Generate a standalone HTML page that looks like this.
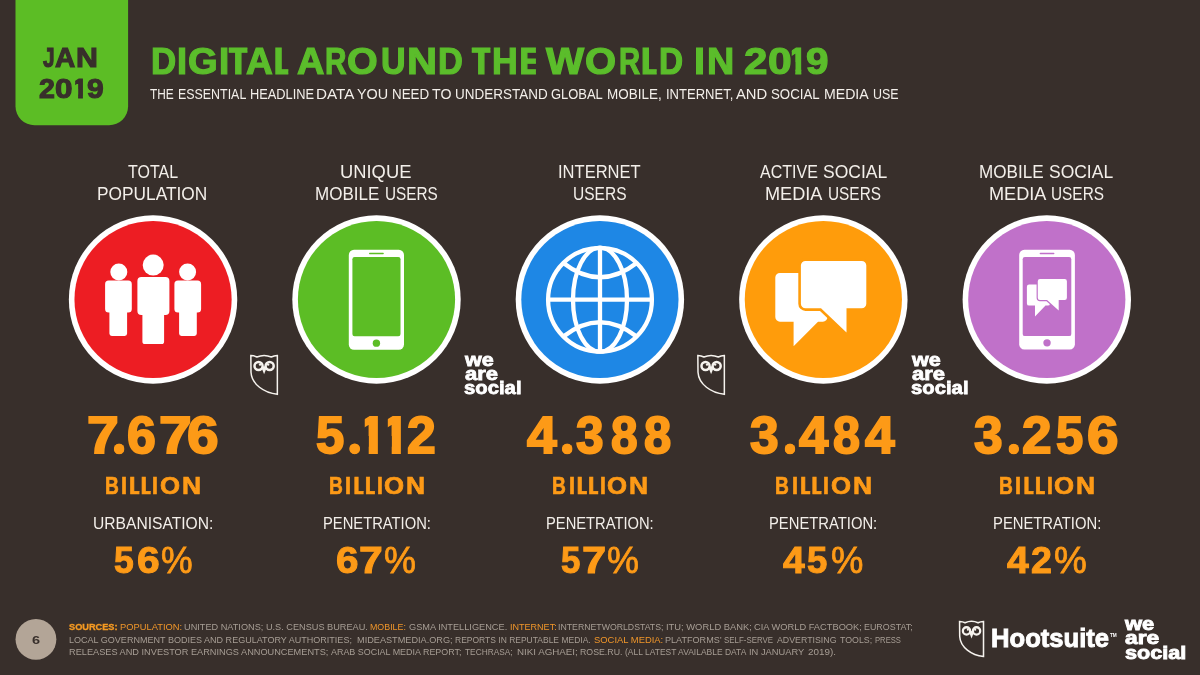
<!DOCTYPE html>
<html lang="en">
<head>
<meta charset="utf-8">
<title>Digital Around the World in 2019</title>
<style>
html,body{margin:0;padding:0;}
body{width:1200px;height:675px;overflow:hidden;background:#382f2b;font-family:"Liberation Sans",sans-serif;}
#stage{position:absolute;left:0;top:0;width:1200px;height:675px;overflow:hidden;background:#382f2b;}
header,main,footer,section,.badge,.brand,.page,.sources,.logos{display:block;margin:0;padding:0;}
.a{position:absolute;left:0;top:0;display:block;}
.g{position:absolute;left:0;top:0;margin:0;padding:0;font-size:0;line-height:0;font-weight:400;}
.t{position:absolute;display:block;white-space:pre;transform-origin:0 0;margin:0;}
.f0{font-size:27.25px;line-height:27.25px;font-weight:700;color:#382f2b;-webkit-text-stroke:1.1px #382f2b;}
.f1{font-size:27.75px;line-height:27.75px;font-weight:700;color:#382f2b;-webkit-text-stroke:1.1px #382f2b;}
.f2{font-size:36.25px;line-height:36.25px;font-weight:700;color:#5bbd2b;-webkit-text-stroke:1.2px #5bbd2b;}
.f3{font-size:15.25px;line-height:15.25px;font-weight:400;color:#f3efea;}
.f4{font-size:18px;line-height:18px;font-weight:400;color:#f3efea;}
.f5{font-size:51px;line-height:51px;font-weight:700;color:#fd9a17;-webkit-text-stroke:1.9px #fd9a17;}
.f6{font-size:66.5px;line-height:66.5px;font-weight:700;color:#fd9a17;-webkit-text-stroke:1.6px #fd9a17;}
.f7{font-size:23.25px;line-height:23.25px;font-weight:700;color:#fd9a17;-webkit-text-stroke:0.7px #fd9a17;}
.f8{font-size:17px;line-height:17px;font-weight:400;color:#f3efea;}
.f9{font-size:36px;line-height:36px;font-weight:700;color:#fd9a17;-webkit-text-stroke:1px #fd9a17;}
.f10{font-size:36.25px;line-height:36.25px;font-weight:400;color:#fd9a17;-webkit-text-stroke:0.8px #fd9a17;}
.f11{font-size:67.75px;line-height:67.75px;font-weight:700;color:#fd9a17;-webkit-text-stroke:1.6px #fd9a17;}
.f12{font-size:19px;line-height:19px;font-weight:700;color:#ffffff;-webkit-text-stroke:0.8px #ffffff;}
.f13{font-size:18.75px;line-height:18.75px;font-weight:700;color:#ffffff;-webkit-text-stroke:0.8px #ffffff;}
.f14{font-size:65.75px;line-height:65.75px;font-weight:700;color:#fd9a17;-webkit-text-stroke:1.6px #fd9a17;}
.f15{font-size:11.75px;line-height:11.75px;font-weight:700;color:#382f2b;}
.f16{font-size:8.75px;line-height:8.75px;font-weight:700;color:#f59a22;-webkit-text-stroke:0.3px #f59a22;}
.f17{font-size:8.75px;line-height:8.75px;font-weight:400;color:#f0962a;}
.f18{font-size:8.75px;line-height:8.75px;font-weight:400;color:#a79e95;}
.f19{font-size:26px;line-height:26px;font-weight:700;color:#ffffff;-webkit-text-stroke:0.9px #ffffff;}
.f20{font-size:5px;line-height:5px;font-weight:700;color:#ffffff;}
.f21{font-size:18.75px;line-height:18.75px;font-weight:700;color:#ffffff;-webkit-text-stroke:0.9px #ffffff;}
.f22{font-size:19px;line-height:19px;font-weight:700;color:#ffffff;-webkit-text-stroke:0.9px #ffffff;}
</style>
</head>
<body>
<div id="stage">
<header>
<div class="badge"><svg class="a" width="1200" height="675" viewBox="0 0 1200 675" aria-hidden="true">
<path d="M15.5 0H128.1V106.2a19 19 0 0 1 -19 19H34.5a19 19 0 0 1 -19 -19Z" fill="#5cbd25"/>
</svg><div class="g date"><span class="t f0" style="left:43.45px;top:43.65px;transform:scaleX(0.7657);">J</span><span class="t f0" style="left:55.02px;top:43.65px;transform:scaleX(1.0283);">A</span><span class="t f0" style="left:75.84px;top:43.65px;transform:scaleX(1.1117);">N </span><span class="t f1" style="left:38.72px;top:74.8px;transform:scaleX(1.0279);">2</span><span class="t f1" style="left:55.42px;top:74.8px;transform:scaleX(1.1329);">0</span><span class="t f1" style="left:72.15px;top:74.8px;clip-path:polygon(3.05px 0,10.75px 0,10.75px 27.75px,5.97px 27.75px,5.97px 13.88px,3.05px 13.88px);">1</span><span class="t f1" style="left:87.23px;top:74.8px;transform:scaleX(1.0812);">9</span></div></div>
<h1 class="g"><span class="t f2" style="left:150.61px;top:43.95px;transform:scaleX(0.9624);">D</span><span class="t f2" style="left:176.9px;top:43.95px;transform:scaleX(1.0003);">I</span><span class="t f2" style="left:188.4px;top:43.95px;transform:scaleX(1.0505);">G</span><span class="t f2" style="left:218.6px;top:43.95px;transform:scaleX(1.0162);">I</span><span class="t f2" style="left:227.27px;top:43.95px;clip-path:polygon(1.53px 0,20.13px 0,20.13px 100%,1.53px 100%);">T</span><span class="t f2" style="left:245.54px;top:43.95px;transform:scaleX(1.0238);">A</span><span class="t f2" style="left:273.4px;top:43.95px;clip-path:polygon(-1.50px 0,14.90px 0,14.90px 100%,-1.50px 100%);">L </span><span class="t f2" style="left:296.82px;top:43.95px;transform:scaleX(1.0474);">A</span><span class="t f2" style="left:324.78px;top:43.95px;transform:scaleX(0.82);">R</span><span class="t f2" style="left:347.3px;top:43.95px;transform:scaleX(1.0877);">O</span><span class="t f2" style="left:380.78px;top:43.95px;transform:scaleX(0.9387);">U</span><span class="t f2" style="left:407.05px;top:43.95px;transform:scaleX(1.1475);">N</span><span class="t f2" style="left:438.04px;top:43.95px;transform:scaleX(0.9495);">D </span><span class="t f2" style="left:470.27px;top:43.95px;clip-path:polygon(1.53px 0,20.13px 0,20.13px 100%,1.53px 100%);">T</span><span class="t f2" style="left:491.57px;top:43.95px;transform:scaleX(0.9823);">H</span><span class="t f2" style="left:519.3px;top:43.95px;clip-path:polygon(-1.50px 0,16.60px 0,16.60px 100%,-1.50px 100%);">E </span><span class="t f2" style="left:546.2px;top:43.95px;transform:scaleX(1.1134);">W</span><span class="t f2" style="left:584.7px;top:43.95px;transform:scaleX(1.1029);">O</span><span class="t f2" style="left:618.52px;top:43.95px;transform:scaleX(0.8075);">R</span><span class="t f2" style="left:640.7px;top:43.95px;clip-path:polygon(-1.50px 0,16.00px 0,16.00px 100%,-1.50px 100%);">L</span><span class="t f2" style="left:658.69px;top:43.95px;transform:scaleX(0.9195);">D </span><span class="t f2" style="left:693.8px;top:43.95px;transform:scaleX(1.0956);">I</span><span class="t f2" style="left:707px;top:43.95px;transform:scaleX(1.0404);">N </span><span class="t f2" style="left:744.31px;top:43.95px;transform:scaleX(1.1608);">2</span><span class="t f2" style="left:768.3px;top:43.95px;transform:scaleX(1.1745);">0</span><span class="t f2" style="left:787.38px;top:43.95px;clip-path:polygon(4.42px 0,13.92px 0,13.92px 36.25px,7.92px 36.25px,7.92px 18.12px,4.42px 18.12px);">1</span><span class="t f2" style="left:805.81px;top:43.95px;transform:scaleX(1.1149);">9</span></h1>
<p class="g"><span class="t f3" style="left:149.77px;top:86.35px;transform:scaleX(0.7796);">THE </span><span class="t f3" style="left:177.89px;top:86.35px;transform:scaleX(0.8139);">ESSENTIAL </span><span class="t f3" style="left:249.76px;top:86.35px;transform:scaleX(0.8405);">HEADLINE </span><span class="t f3" style="left:316.29px;top:86.35px;transform:scaleX(0.9976);">DATA </span><span class="t f3" style="left:357.42px;top:86.35px;transform:scaleX(0.9444);">YOU </span><span class="t f3" style="left:392.22px;top:86.35px;transform:scaleX(0.8779);">NEED </span><span class="t f3" style="left:432.23px;top:86.35px;transform:scaleX(0.9288);">TO </span><span class="t f3" style="left:454.77px;top:86.35px;transform:scaleX(0.8839);">UNDERSTAND </span><span class="t f3" style="left:551.37px;top:86.35px;transform:scaleX(0.8483);">GLOBAL </span><span class="t f3" style="left:607.22px;top:86.35px;transform:scaleX(0.8831);">MOBILE, </span><span class="t f3" style="left:665.53px;top:86.35px;transform:scaleX(0.8546);">INTERNET, </span><span class="t f3" style="left:736.1px;top:86.35px;transform:scaleX(0.9705);">AND </span><span class="t f3" style="left:771.45px;top:86.35px;transform:scaleX(0.8687);">SOCIAL </span><span class="t f3" style="left:823.87px;top:86.35px;transform:scaleX(0.9254);">MEDIA </span><span class="t f3" style="left:872.8px;top:86.35px;transform:scaleX(0.8161);">USE </span></p>
</header>
<main>
<section class="col" aria-label="Total population">
<h2 class="g"><span class="t f4" style="left:127.99px;top:162.55px;transform:scaleX(0.8889);">TOTAL </span><span class="t f4" style="left:97.33px;top:185.35px;transform:scaleX(0.9614);">POPULATION </span></h2>
<svg class="a" width="1200" height="675" viewBox="0 0 1200 675" role="img" aria-label="People icon">
<circle cx="153.05" cy="299.5" r="84.2" fill="#ffffff"/>
<circle cx="153.05" cy="299.5" r="78.6" fill="#ed1d23"/>
<g>
<circle cx="118.8" cy="272.0" r="8.5" fill="#ffffff"/><path d="M108.7 280.6H128.2a3.6 3.6 0 0 1 3.6 3.6V309.0a3.6 3.6 0 0 1 -3.6 3.6H127.1V333.6a2.4 2.4 0 0 1 -2.4 2.4H111.8a2.4 2.4 0 0 1 -2.4 -2.4V312.6H108.7a3.6 3.6 0 0 1 -3.6 -3.6V284.2a3.6 3.6 0 0 1 3.6 -3.6Z" fill="#ffffff"/>
<circle cx="187.6" cy="272.0" r="8.5" fill="#ffffff"/><path d="M178.0 280.6H197.5a3.6 3.6 0 0 1 3.6 3.6V309.0a3.6 3.6 0 0 1 -3.6 3.6H196.8V333.6a2.4 2.4 0 0 1 -2.4 2.4H181.5a2.4 2.4 0 0 1 -2.4 -2.4V312.6H178.0a3.6 3.6 0 0 1 -3.6 -3.6V284.2a3.6 3.6 0 0 1 3.6 -3.6Z" fill="#ffffff"/>
<circle cx="153.2" cy="265.1" r="10.5" fill="#ffffff"/><path d="M141.4 277.0H165.4a4.0 4.0 0 0 1 4.0 4.0V311.0a4.0 4.0 0 0 1 -4.0 4.0H164.1V341.4a2.6 2.6 0 0 1 -2.6 2.6H145.0a2.6 2.6 0 0 1 -2.6 -2.6V315.0H141.4a4.0 4.0 0 0 1 -4.0 -4.0V281.0a4.0 4.0 0 0 1 4.0 -4.0Z" fill="#ffffff"/>
</g>
</svg>
<div class="g num"><span class="t f5" style="left:87.47px;top:410.46px;transform:scaleX(1.1202);">7</span><span class="t f6" style="left:109.91px;top:397.9px;clip-path:circle(5.30px at 9.19px 51.00px);">.</span><span class="t f5" style="left:127.1px;top:410.46px;transform:scaleX(1.0152);">6</span><span class="t f5" style="left:158.63px;top:410.46px;transform:scaleX(1.1512);">7</span><span class="t f5" style="left:186.76px;top:410.46px;transform:scaleX(1.1133);">6</span></div>
<div class="g unit"><span class="t f7" style="left:104.63px;top:475px;transform:scaleX(0.8245);">B</span><span class="t f7" style="left:121.2px;top:475px;transform:scaleX(0.9294);">I</span><span class="t f7" style="left:129.08px;top:475px;clip-path:polygon(-2.38px 0,10.32px 0,10.32px 100%,-2.38px 100%);">L</span><span class="t f7" style="left:140.48px;top:475px;clip-path:polygon(-2.38px 0,10.22px 0,10.22px 100%,-2.38px 100%);">L</span><span class="t f7" style="left:152.41px;top:475px;transform:scaleX(0.9056);">I</span><span class="t f7" style="left:159.76px;top:475px;transform:scaleX(1.1077);">O</span><span class="t f7" style="left:181.86px;top:475px;transform:scaleX(1.1367);">N</span></div>
<div class="g key"><span class="t f8" style="left:93.03px;top:515.45px;transform:scaleX(0.9187);">URBANISATION:</span></div>
<div class="g pct"><span class="t f9" style="left:113.63px;top:543.2px;transform:scaleX(0.9877);">5</span><span class="t f9" style="left:136.9px;top:543.2px;transform:scaleX(1.1338);">6</span><span class="t f10" style="left:160.93px;top:543.21px;transform:scaleX(0.981);">%</span></div>
</section>
<div class="brand"><svg class="a" width="1200" height="675" viewBox="0 0 1200 675" role="img" aria-label="Hootsuite owl">
<g transform="translate(250.1 354.7) scale(1.0)"><path d="M0.75 0.8Q4.2 0.9 6.8 2.3Q10.3 0.7 14 0.7Q17.7 0.7 21.2 2.3Q23.8 0.9 27.25 0.8V39.6C14 38.2 1.6 29.5 0.9 17.5Z" fill="none" stroke="#f6f3ee" stroke-width="1.5" stroke-linejoin="miter"/><circle cx="8.45" cy="11.3" r="4.05" fill="none" stroke="#f6f3ee" stroke-width="2.5"/><circle cx="9.95" cy="9.9" r="1.2" fill="#f6f3ee"/><circle cx="19.55" cy="11.3" r="4.05" fill="none" stroke="#f6f3ee" stroke-width="2.5"/><circle cx="18.05" cy="9.9" r="1.2" fill="#f6f3ee"/><path d="M11.2 12.6Q14 10.4 16.8 12.6L14 19.6Z" fill="#f6f3ee"/></g>
</svg></div>
<section class="col" aria-label="Unique mobile users">
<h2 class="g"><span class="t f4" style="left:340.14px;top:162.55px;transform:scaleX(1.0198);">UNIQUE </span><span class="t f4" style="left:314.65px;top:185.35px;transform:scaleX(0.9459);">MOBILE </span><span class="t f4" style="left:384.65px;top:185.35px;transform:scaleX(0.8515);">USERS </span></h2>
<svg class="a" width="1200" height="675" viewBox="0 0 1200 675" role="img" aria-label="Mobile phone icon">
<circle cx="376.5" cy="299.5" r="84.2" fill="#ffffff"/>
<circle cx="376.5" cy="299.5" r="78.6" fill="#5cbd25"/>
<rect x="348.8" y="249.8" width="55.2" height="100.0" rx="5.2" fill="#ffffff"/><rect x="352.4" y="257.0" width="48.1" height="79.3" rx="2.2" fill="#5cbd25"/><rect x="369.0" y="252.7" width="14.8" height="1.5" rx="0.7" fill="#5cbd25"/><circle cx="376.4" cy="343.15" r="3.7" fill="#5cbd25"/>
</svg>
<div class="g num"><span class="t f5" style="left:316.43px;top:410.46px;transform:scaleX(0.9964);">5</span><span class="t f11" style="left:345.35px;top:396.91px;clip-path:circle(5.40px at 9.35px 51.89px);">.</span><span class="t f5" style="left:357.33px;top:410.46px;transform:scaleX(1.06);clip-path:polygon(7.15px 0,19.69px 0,19.69px 51.0px,11.04px 51.0px,11.04px 25.50px,7.15px 25.50px);">1</span><span class="t f5" style="left:380.33px;top:410.46px;transform:scaleX(1.06);clip-path:polygon(7.24px 0,19.69px 0,19.69px 51.0px,11.04px 51.0px,11.04px 25.50px,7.24px 25.50px);">1</span><span class="t f5" style="left:406.7px;top:410.46px;transform:scaleX(1.0136);">2</span></div>
<div class="g unit"><span class="t f7" style="left:328.83px;top:475px;transform:scaleX(0.8245);">B</span><span class="t f7" style="left:345.4px;top:475px;transform:scaleX(0.9294);">I</span><span class="t f7" style="left:353.28px;top:475px;clip-path:polygon(-2.38px 0,10.32px 0,10.32px 100%,-2.38px 100%);">L</span><span class="t f7" style="left:364.68px;top:475px;clip-path:polygon(-2.38px 0,10.22px 0,10.22px 100%,-2.38px 100%);">L</span><span class="t f7" style="left:376.61px;top:475px;transform:scaleX(0.9056);">I</span><span class="t f7" style="left:383.96px;top:475px;transform:scaleX(1.1077);">O</span><span class="t f7" style="left:406.06px;top:475px;transform:scaleX(1.1367);">N</span></div>
<div class="g key"><span class="t f8" style="left:322.53px;top:515.45px;transform:scaleX(0.8676);">PENETRATION:</span></div>
<div class="g pct"><span class="t f9" style="left:336.3px;top:543.2px;transform:scaleX(1.1227);">6</span><span class="t f9" style="left:359.24px;top:543.2px;transform:scaleX(1.1859);">7</span><span class="t f10" style="left:383.53px;top:543.21px;transform:scaleX(0.9909);">%</span></div>
</section>
<div class="g brand"><span class="t f12" style="left:464.64px;top:350.15px;transform:scaleX(1.1317);">we </span><span class="t f13" style="left:464.64px;top:365.05px;transform:scaleX(1.1715);">are </span><span class="t f13" style="left:464.45px;top:379.05px;transform:scaleX(1.0822);">social </span></div>
<section class="col" aria-label="Internet users">
<h2 class="g"><span class="t f4" style="left:557.83px;top:162.55px;transform:scaleX(0.9189);">INTERNET </span><span class="t f4" style="left:572.63px;top:185.35px;transform:scaleX(0.8632);">USERS </span></h2>
<svg class="a" width="1200" height="675" viewBox="0 0 1200 675" role="img" aria-label="Globe icon">
<circle cx="599.9" cy="299.5" r="84.2" fill="#ffffff"/>
<circle cx="599.9" cy="299.5" r="78.6" fill="#1e87e5"/>
<g fill="none" stroke="#ffffff" stroke-width="4.3">
<circle cx="600" cy="299.7" r="51.9"/>
<ellipse cx="600" cy="299.7" rx="27" ry="52"/>
<path d="M600 247.7V351.7M548 299.7H652"/>
<path d="M563 262.7Q600 291.7 637 262.7"/>
<path d="M563 336.7Q600 307.7 637 336.7"/>
</g>
</svg>
<div class="g num"><span class="t f5" style="left:527.15px;top:410.46px;transform:scaleX(1.0483);">4</span><span class="t f6" style="left:558.01px;top:397.9px;clip-path:circle(5.30px at 9.19px 51.00px);">.</span><span class="t f5" style="left:576.07px;top:410.46px;transform:scaleX(0.9731);">3</span><span class="t f5" style="left:611px;top:410.46px;transform:scaleX(0.9372);">8</span><span class="t f5" style="left:643.59px;top:410.46px;transform:scaleX(0.9593);">8</span></div>
<div class="g unit"><span class="t f7" style="left:552.13px;top:475px;transform:scaleX(0.8245);">B</span><span class="t f7" style="left:568.7px;top:475px;transform:scaleX(0.9294);">I</span><span class="t f7" style="left:576.58px;top:475px;clip-path:polygon(-2.38px 0,10.32px 0,10.32px 100%,-2.38px 100%);">L</span><span class="t f7" style="left:587.98px;top:475px;clip-path:polygon(-2.38px 0,10.22px 0,10.22px 100%,-2.38px 100%);">L</span><span class="t f7" style="left:599.91px;top:475px;transform:scaleX(0.9056);">I</span><span class="t f7" style="left:607.26px;top:475px;transform:scaleX(1.1077);">O</span><span class="t f7" style="left:629.36px;top:475px;transform:scaleX(1.1367);">N</span></div>
<div class="g key"><span class="t f8" style="left:546.03px;top:515.45px;transform:scaleX(0.866);">PENETRATION:</span></div>
<div class="g pct"><span class="t f9" style="left:561.14px;top:543.2px;transform:scaleX(0.9665);">5</span><span class="t f9" style="left:582.12px;top:543.2px;transform:scaleX(1.2082);">7</span><span class="t f10" style="left:606.83px;top:543.21px;transform:scaleX(0.9909);">%</span></div>
</section>
<div class="brand"><svg class="a" width="1200" height="675" viewBox="0 0 1200 675" role="img" aria-label="Hootsuite owl">
<g transform="translate(697.1 354.7) scale(1.0)"><path d="M0.75 0.8Q4.2 0.9 6.8 2.3Q10.3 0.7 14 0.7Q17.7 0.7 21.2 2.3Q23.8 0.9 27.25 0.8V39.6C14 38.2 1.6 29.5 0.9 17.5Z" fill="none" stroke="#f6f3ee" stroke-width="1.5" stroke-linejoin="miter"/><circle cx="8.45" cy="11.3" r="4.05" fill="none" stroke="#f6f3ee" stroke-width="2.5"/><circle cx="9.95" cy="9.9" r="1.2" fill="#f6f3ee"/><circle cx="19.55" cy="11.3" r="4.05" fill="none" stroke="#f6f3ee" stroke-width="2.5"/><circle cx="18.05" cy="9.9" r="1.2" fill="#f6f3ee"/><path d="M11.2 12.6Q14 10.4 16.8 12.6L14 19.6Z" fill="#f6f3ee"/></g>
</svg></div>
<section class="col" aria-label="Active social media users">
<h2 class="g"><span class="t f4" style="left:759.84px;top:162.55px;transform:scaleX(0.8892);">ACTIVE </span><span class="t f4" style="left:822.62px;top:162.55px;transform:scaleX(0.9725);">SOCIAL </span><span class="t f4" style="left:765.27px;top:185.35px;transform:scaleX(1.0076);">MEDIA </span><span class="t f4" style="left:827.54px;top:185.35px;transform:scaleX(0.8548);">USERS </span></h2>
<svg class="a" width="1200" height="675" viewBox="0 0 1200 675" role="img" aria-label="Chat bubbles icon">
<circle cx="823.35" cy="299.5" r="84.2" fill="#ffffff"/>
<circle cx="823.35" cy="299.5" r="78.6" fill="#ff9c0b"/>
<path d="M779.9 272.9H822.9a4.6 4.6 0 0 1 4.6 4.6V317.1a4.6 4.6 0 0 1 -4.6 4.6H818.0L793.6 346.2V321.7H779.9a4.6 4.6 0 0 1 -4.6 -4.6V277.5a4.6 4.6 0 0 1 4.6 -4.6Z" fill="#ffffff"/><path d="M805.5 260.9H861.7a4.6 4.6 0 0 1 4.6 4.6V303.7a4.6 4.6 0 0 1 -4.6 4.6H846.5V332.6L821.0 308.3H805.5a4.6 4.6 0 0 1 -4.6 -4.6V265.5a4.6 4.6 0 0 1 4.6 -4.6Z" fill="#ff9c0b" stroke="#ff9c0b" stroke-width="5.2" stroke-linejoin="round"/><path d="M805.5 260.9H861.7a4.6 4.6 0 0 1 4.6 4.6V303.7a4.6 4.6 0 0 1 -4.6 4.6H846.5V332.6L821.0 308.3H805.5a4.6 4.6 0 0 1 -4.6 -4.6V265.5a4.6 4.6 0 0 1 4.6 -4.6Z" fill="#ffffff"/>
</svg>
<div class="g num"><span class="t f5" style="left:750.35px;top:410.46px;transform:scaleX(1.0099);">3</span><span class="t f6" style="left:780.81px;top:397.9px;clip-path:circle(5.30px at 9.19px 51.00px);">.</span><span class="t f5" style="left:798.5px;top:410.46px;transform:scaleX(1.0345);">4</span><span class="t f5" style="left:833.39px;top:410.46px;transform:scaleX(0.952);">8</span><span class="t f5" style="left:864.95px;top:410.46px;transform:scaleX(1.0448);">4</span></div>
<div class="g unit"><span class="t f7" style="left:775.43px;top:475px;transform:scaleX(0.8245);">B</span><span class="t f7" style="left:792px;top:475px;transform:scaleX(0.9294);">I</span><span class="t f7" style="left:799.88px;top:475px;clip-path:polygon(-2.38px 0,10.32px 0,10.32px 100%,-2.38px 100%);">L</span><span class="t f7" style="left:811.28px;top:475px;clip-path:polygon(-2.38px 0,10.22px 0,10.22px 100%,-2.38px 100%);">L</span><span class="t f7" style="left:823.21px;top:475px;transform:scaleX(0.9056);">I</span><span class="t f7" style="left:830.56px;top:475px;transform:scaleX(1.1077);">O</span><span class="t f7" style="left:852.66px;top:475px;transform:scaleX(1.1367);">N</span></div>
<div class="g key"><span class="t f8" style="left:769.32px;top:515.45px;transform:scaleX(0.8701);">PENETRATION:</span></div>
<div class="g pct"><span class="t f9" style="left:783.28px;top:543.2px;transform:scaleX(1.0846);">4</span><span class="t f9" style="left:807.31px;top:543.2px;transform:scaleX(1.0141);">5</span><span class="t f10" style="left:830.64px;top:543.21px;transform:scaleX(1.0041);">%</span></div>
</section>
<div class="g brand"><span class="t f12" style="left:911.64px;top:350.15px;transform:scaleX(1.1317);">we </span><span class="t f13" style="left:911.64px;top:365.05px;transform:scaleX(1.1715);">are </span><span class="t f13" style="left:911.45px;top:379.05px;transform:scaleX(1.0822);">social </span></div>
<section class="col" aria-label="Mobile social media users">
<h2 class="g"><span class="t f4" style="left:979.45px;top:162.55px;transform:scaleX(0.9489);">MOBILE </span><span class="t f4" style="left:1048.93px;top:162.55px;transform:scaleX(0.9709);">SOCIAL </span><span class="t f4" style="left:989.07px;top:185.35px;transform:scaleX(1.0076);">MEDIA </span><span class="t f4" style="left:1050.84px;top:185.35px;transform:scaleX(0.8548);">USERS </span></h2>
<svg class="a" width="1200" height="675" viewBox="0 0 1200 675" role="img" aria-label="Phone with chat bubbles icon">
<circle cx="1046.8" cy="299.5" r="84.2" fill="#ffffff"/>
<circle cx="1046.8" cy="299.5" r="78.6" fill="#c071c9"/>
<rect x="1019.2" y="249.8" width="55.7" height="99.6" rx="5.2" fill="#ffffff"/><rect x="1022.7" y="257.0" width="48.6" height="79.1" rx="2.2" fill="#c071c9"/><rect x="1039.65" y="252.7" width="14.8" height="1.5" rx="0.7" fill="#c071c9"/><circle cx="1047.05" cy="342.85" r="3.7" fill="#c071c9"/>
<path d="M1029.1 284.5H1047.8a2.2 2.2 0 0 1 2.2 2.2V303.4a2.2 2.2 0 0 1 -2.2 2.2H1045.5L1035.0 316.6V305.6H1029.1a2.2 2.2 0 0 1 -2.2 -2.2V286.7a2.2 2.2 0 0 1 2.2 -2.2Z" fill="#ffffff"/><path d="M1040.0 279.0H1064.7a2.2 2.2 0 0 1 2.2 2.2V297.8a2.2 2.2 0 0 1 -2.2 2.2H1058.7V310.4L1047.0 300.0H1040.0a2.2 2.2 0 0 1 -2.2 -2.2V281.2a2.2 2.2 0 0 1 2.2 -2.2Z" fill="#c071c9" stroke="#c071c9" stroke-width="2.4" stroke-linejoin="round"/><path d="M1040.0 279.0H1064.7a2.2 2.2 0 0 1 2.2 2.2V297.8a2.2 2.2 0 0 1 -2.2 2.2H1058.7V310.4L1047.0 300.0H1040.0a2.2 2.2 0 0 1 -2.2 -2.2V281.2a2.2 2.2 0 0 1 2.2 -2.2Z" fill="#ffffff"/>
</svg>
<div class="g num"><span class="t f5" style="left:974.15px;top:410.46px;transform:scaleX(1.0099);">3</span><span class="t f14" style="left:1004.65px;top:398.95px;clip-path:circle(5.25px at 9.10px 50.00px);">.</span><span class="t f5" style="left:1021.5px;top:410.46px;transform:scaleX(1.044);">2</span><span class="t f5" style="left:1056.34px;top:410.46px;transform:scaleX(0.9598);">5</span><span class="t f5" style="left:1087.1px;top:410.46px;transform:scaleX(1.1095);">6</span></div>
<div class="g unit"><span class="t f7" style="left:998.83px;top:475px;transform:scaleX(0.8245);">B</span><span class="t f7" style="left:1015.4px;top:475px;transform:scaleX(0.9294);">I</span><span class="t f7" style="left:1023.28px;top:475px;clip-path:polygon(-2.38px 0,10.32px 0,10.32px 100%,-2.38px 100%);">L</span><span class="t f7" style="left:1034.68px;top:475px;clip-path:polygon(-2.38px 0,10.22px 0,10.22px 100%,-2.38px 100%);">L</span><span class="t f7" style="left:1046.61px;top:475px;transform:scaleX(0.9056);">I</span><span class="t f7" style="left:1053.96px;top:475px;transform:scaleX(1.1077);">O</span><span class="t f7" style="left:1076.06px;top:475px;transform:scaleX(1.1367);">N</span></div>
<div class="g key"><span class="t f8" style="left:992.62px;top:515.45px;transform:scaleX(0.8709);">PENETRATION:</span></div>
<div class="g pct"><span class="t f9" style="left:1007.08px;top:543.2px;transform:scaleX(1.0846);">4</span><span class="t f9" style="left:1030.98px;top:543.2px;transform:scaleX(1.0436);">2</span><span class="t f10" style="left:1053.54px;top:543.21px;transform:scaleX(1.0174);">%</span></div>
</section>
</main>
<footer>
<div class="page"><svg class="a" width="1200" height="675" viewBox="0 0 1200 675" aria-hidden="true">
<circle cx="35.95" cy="639.35" r="20.4" fill="#b3a597"/>
</svg><div class="g"><span class="t f15" style="left:31.68px;top:633.55px;transform:scaleX(1.2365);">6</span></div></div>
<div class="sources"><p class="g"><span class="t f16" style="left:68.97px;top:623.05px;transform:scaleX(1.0506);">SOURCES: </span><span class="t f17" style="left:119.69px;top:623.05px;transform:scaleX(1.0672);">POPULATION: </span><span class="t f18" style="left:183.56px;top:623.05px;transform:scaleX(1.0485);">UNITED NATIONS; U.S. CENSUS BUREAU. </span><span class="t f17" style="left:369.64px;top:623.05px;transform:scaleX(1.0112);">MOBILE: </span><span class="t f18" style="left:409.23px;top:623.05px;transform:scaleX(1.0517);">GSMA INTELLIGENCE. </span><span class="t f17" style="left:509.52px;top:623.05px;transform:scaleX(1.0322);">INTERNET: </span><span class="t f18" style="left:558.37px;top:623.05px;transform:scaleX(0.9978);">INTERNETWORLDSTATS; </span><span class="t f18" style="left:665.97px;top:623.05px;transform:scaleX(1.0701);">ITU; WORLD BANK; </span><span class="t f18" style="left:753.76px;top:623.05px;transform:scaleX(1.0614);">CIA WORLD FACTBOOK; </span><span class="t f18" style="left:864.03px;top:623.05px;transform:scaleX(1.0173);">EUROSTAT; </span></p><p class="g"><span class="t f18" style="left:68.53px;top:635.6px;transform:scaleX(1.0323);">LOCAL GOVERNMENT BODIES AND REGULATORY AUTHORITIES; </span><span class="t f18" style="left:356.81px;top:635.6px;transform:scaleX(1.0463);">MIDEASTMEDIA.ORG; </span><span class="t f18" style="left:455.17px;top:635.6px;transform:scaleX(0.9711);">REPORTS IN REPUTABLE MEDIA. </span><span class="t f17" style="left:594.01px;top:635.6px;transform:scaleX(1.076);">SOCIAL MEDIA: </span><span class="t f18" style="left:665.12px;top:635.6px;transform:scaleX(1.0362);">PLATFORMS’ </span><span class="t f18" style="left:724.41px;top:635.6px;transform:scaleX(0.9041);">SELF-SERVE </span><span class="t f18" style="left:776.5px;top:635.6px;transform:scaleX(1.0057);">ADVERTISING </span><span class="t f18" style="left:839.65px;top:635.6px;transform:scaleX(1.0071);">TOOLS; </span><span class="t f18" style="left:874.84px;top:635.6px;transform:scaleX(0.875);">PRESS </span></p><p class="g"><span class="t f18" style="left:68.51px;top:648.35px;transform:scaleX(1.0507);">RELEASES AND INVESTOR EARNINGS ANNOUNCEMENTS; </span><span class="t f18" style="left:331.49px;top:648.35px;transform:scaleX(1.0203);">ARAB SOCIAL MEDIA REPORT; </span><span class="t f18" style="left:465.45px;top:648.35px;transform:scaleX(0.951);">TECHRASA; </span><span class="t f18" style="left:516.76px;top:648.35px;transform:scaleX(1.1162);">NIKI AGHAEI; </span><span class="t f18" style="left:580.15px;top:648.35px;transform:scaleX(1.0028);">ROSE.RU. </span><span class="t f18" style="left:625.32px;top:648.35px;transform:scaleX(0.9692);">(ALL LATEST AVAILABLE DATA </span><span class="t f18" style="left:748.77px;top:648.35px;transform:scaleX(1.0654);">IN JANUARY </span><span class="t f18" style="left:807.51px;top:648.35px;transform:scaleX(1.1244);">2019). </span></p></div>
<div class="logos"><svg class="a" width="1200" height="675" viewBox="0 0 1200 675" role="img" aria-label="Hootsuite owl">
<g transform="translate(958.9 620.7) scale(0.903)"><path d="M0.75 0.8Q4.2 0.9 6.8 2.3Q10.3 0.7 14 0.7Q17.7 0.7 21.2 2.3Q23.8 0.9 27.25 0.8V39.6C14 38.2 1.6 29.5 0.9 17.5Z" fill="none" stroke="#f6f3ee" stroke-width="1.7" stroke-linejoin="miter"/><circle cx="8.45" cy="11.3" r="4.05" fill="none" stroke="#f6f3ee" stroke-width="2.5"/><circle cx="9.95" cy="9.9" r="1.2" fill="#f6f3ee"/><circle cx="19.55" cy="11.3" r="4.05" fill="none" stroke="#f6f3ee" stroke-width="2.5"/><circle cx="18.05" cy="9.9" r="1.2" fill="#f6f3ee"/><path d="M11.2 12.6Q14 10.4 16.8 12.6L14 19.6Z" fill="#f6f3ee"/></g>
</svg><div class="g"><span class="t f19" style="left:990.65px;top:624.7px;transform:scaleX(0.9853);">Hootsuite</span><span class="t f20" style="left:1109.55px;top:633px;transform:scaleX(0.94);">TM</span></div><div class="g"><span class="t f21" style="left:1125.41px;top:614.95px;transform:scaleX(1.1686);">we </span><span class="t f22" style="left:1124.96px;top:628.3px;transform:scaleX(1.2008);">are </span><span class="t f22" style="left:1124.86px;top:642.9px;transform:scaleX(1.1391);">social </span></div></div>
</footer>
</div>
</body>
</html>
